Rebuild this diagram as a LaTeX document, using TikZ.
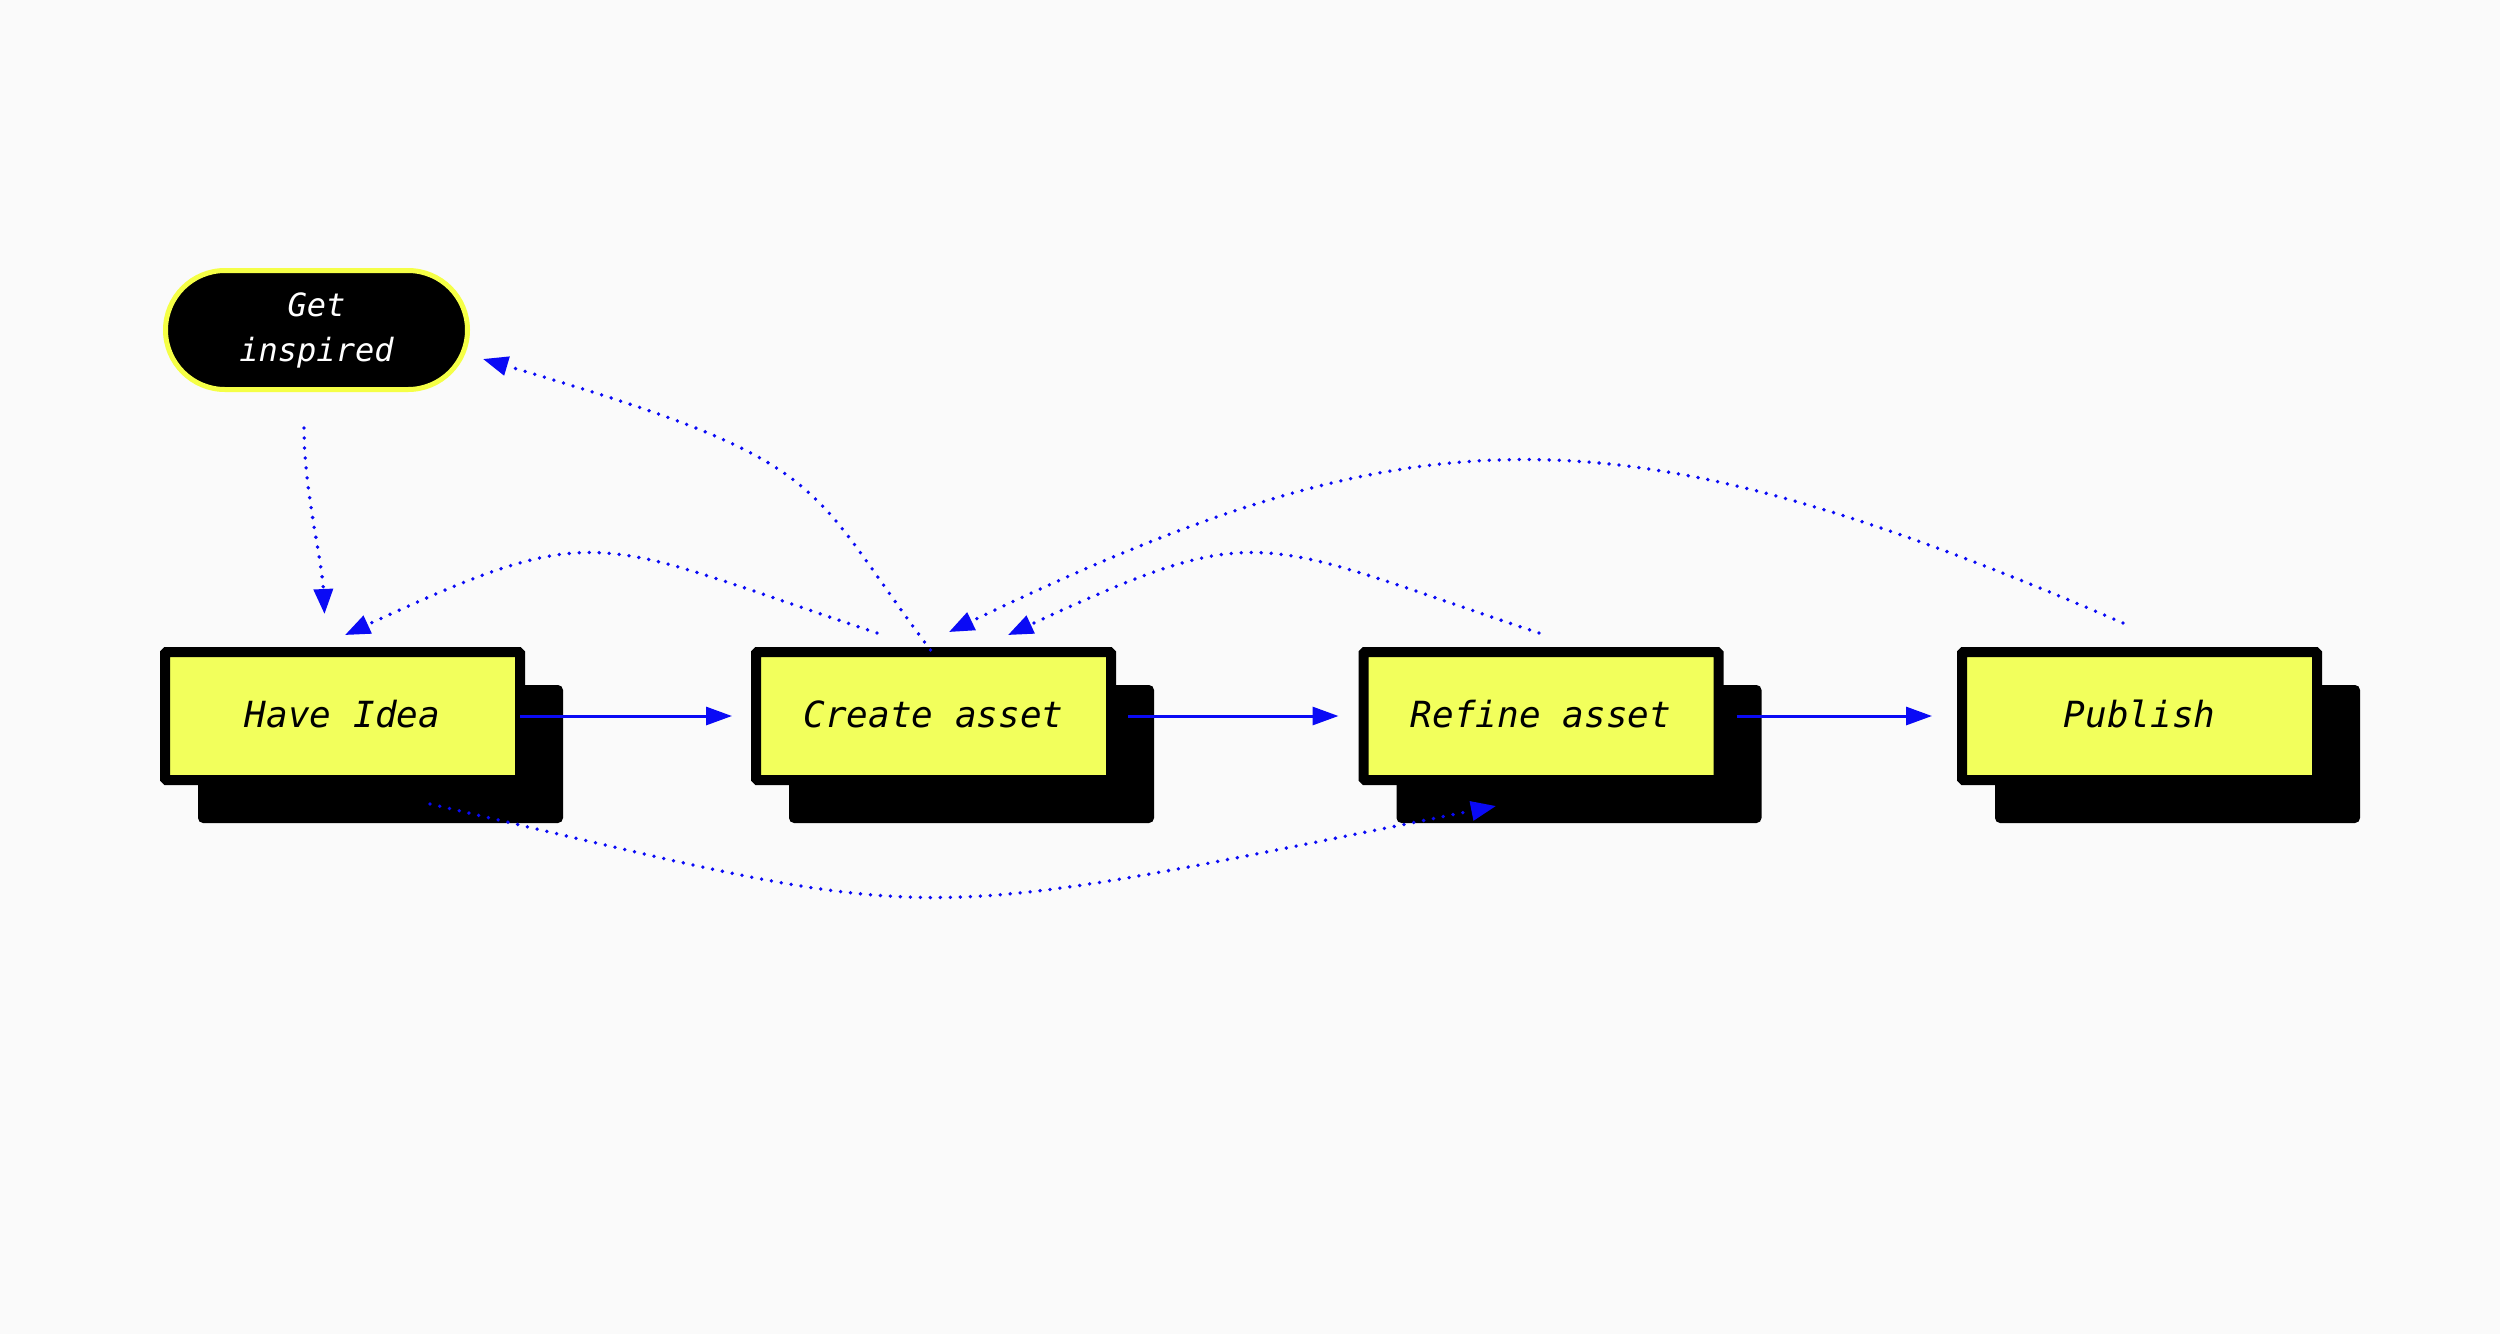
\documentclass[tikz,border=0pt]{standalone}
\usepackage{fontspec}
\usetikzlibrary{arrows.meta}
\newfontfamily\monoit{DejaVu Sans Mono Oblique}
\definecolor{bgc}{RGB}{250,250,250}
\definecolor{yel}{RGB}{242,255,92}
\definecolor{yelb}{RGB}{245,255,70}
\definecolor{arr}{RGB}{10,10,245}
\pgfdeclarelayer{bg}
\pgfsetlayers{bg,main}
\tikzset{
  stepbox/.style={rectangle, draw=black, line width=10pt, fill=yel,
    minimum width=355pt, minimum height=128pt, inner sep=0pt, outer sep=5pt,
    rounded corners=1.5pt, text=black,
    font=\monoit\fontsize{36pt}{40pt}\selectfont, text height=22pt, text depth=0pt},
  gibox/.style={rectangle, draw=yelb, line width=5pt, fill=black, text=white,
    minimum width=302pt, minimum height=119pt, inner sep=0pt, outer sep=2.5pt,
    rounded corners=59.5pt, align=center,
    font=\monoit\fontsize{32pt}{45pt}\selectfont},
  shadowbox/.style={fill=black, rounded corners=5pt},
  solidarrow/.style={draw=arr, line width=3pt,
    -{Triangle[length=26pt,width=18pt]}},
  dotarrow/.style={draw=arr, line width=3.8pt, line cap=round,
    dash pattern=on 0pt off 10pt,
    -{Triangle[length=25pt,width=19pt]}},
}
\begin{document}
\begin{tikzpicture}[x=1pt,y=-1pt]
\useasboundingbox (0,0) rectangle (2500,1334);
\begin{pgfonlayer}{bg}
\fill[bgc] (0,0) rectangle (2500,1334);
\end{pgfonlayer}

\node[gibox] (gi) at (316.5,330) {Get\\inspired};
\node[stepbox] (hi) at (342.5,716) {Have Idea};
\node[stepbox] (ca) at (933.5,716) {Create asset};
\node[stepbox] (rf) at (1541,716) {Refine asset};
\node[stepbox] (pb) at (2139.5,716) {Publish};

\begin{pgfonlayer}{bg}
\foreach \n in {hi,ca,rf,pb}{
  \path[shadowbox] ([shift={(38,38)}]\n.north west) rectangle ([shift={(38,38)}]\n.south east);
}
\end{pgfonlayer}

% solid arrows
\draw[solidarrow] ([xshift=-5pt]hi.east) -- ([xshift=-19pt]ca.west);
\draw[solidarrow] ([xshift=12pt]ca.east) -- ([xshift=-20pt]rf.west);
\draw[solidarrow] ([xshift=13pt]rf.east) -- ([xshift=-25pt]pb.west);

% dotted arrows
\draw[dotarrow] ([shift={(-12.5,36)}]gi.south) .. controls +(0,62) and +(-2.5,-54) .. ([shift={(-18,-33)}]hi.north);
\draw[dotarrow] ([shift={(-3,3)}]ca.north) .. controls +(-128,-170) and +(354,104) .. ([shift={(13,29)}]gi.east);
\draw[dotarrow] ([shift={(-56.5,-14)}]ca.north) .. controls +(-285,-95) and +(256,-118) .. ([shift={(2.5,-12)}]hi.north);
\draw[dotarrow] ([shift={(-2,-14)}]rf.north) .. controls +(-285,-95) and +(255,-118) .. ([shift={(74.5,-12)}]ca.north);
\draw[dotarrow] ([shift={(-16.5,-24)}]pb.north) .. controls +(-510,-220) and +(467,-224.5) .. ([shift={(15.5,-15)}]ca.north);
\draw[dotarrow] ([shift={(87.5,19)}]hi.south) .. controls +(526,122) and +(-615,123) .. ([shift={(-45,21)}]rf.south);
\end{tikzpicture}
\end{document}
